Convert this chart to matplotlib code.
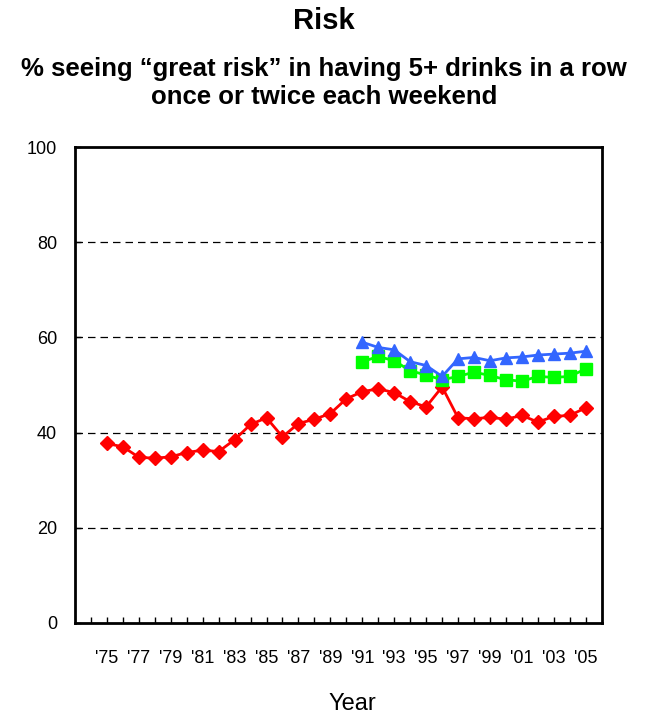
import matplotlib
matplotlib.use("Agg")
import matplotlib.pyplot as plt
import numpy as np

plt.rcParams['font.family'] = ['Liberation Sans', 'DejaVu Sans']

years_red = list(range(1975, 2006))
red = [37.7, 37.0, 34.8, 34.6, 34.9, 35.8, 36.3, 36.0, 38.5, 41.7, 43.1, 39.1,
       41.9, 42.8, 44.0, 47.1, 48.6, 49.2, 48.4, 46.5, 45.4, 49.6, 43.1, 42.9,
       43.2, 42.8, 43.6, 42.2, 43.4, 43.6, 45.2]
years_late = list(range(1991, 2006))
green = [54.9, 56.0, 55.1, 53.0, 52.1, 51.1, 51.8, 52.7, 52.0, 51.1, 50.8, 51.8,
         51.6, 51.8, 53.4]
blue = [59.0, 57.9, 57.4, 54.9, 54.1, 51.8, 55.5, 55.8, 55.1, 55.7, 55.9, 56.3,
        56.5, 56.7, 57.1]
tick_years = list(range(1974, 2006))
xtick_labels = ["'%02d" % (y % 100) if y % 2 == 1 else "" for y in tick_years]
yticks = [0, 20, 40, 60, 80, 100]

fig = plt.figure(figsize=(6.48, 7.17), dpi=100)
ax = fig.add_axes([75/648, 1-622.7/717, (601.7-75)/648, (622.7-147.3)/717])

ax.plot(years_red, red, color='#FF0000', lw=2, marker='D', ms=7.5, mec='#FF0000', zorder=3)
ax.plot(years_late, green, color='#00FF00', lw=2, marker='s', ms=8, mec='#00FF00', zorder=4)
ax.plot(years_late, blue, color='#3366FF', lw=2, marker='^', ms=9, mec='#3366FF', zorder=5)

ax.set_xlim(1973, 2006)
ax.set_ylim(0, 100)
ax.set_xticks(tick_years)
ax.set_xticklabels(xtick_labels)
ax.tick_params(axis='x', direction='in', length=4, width=1, color='black', pad=20, labelsize=13)
ax.set_yticks(yticks)
ax.set_yticklabels([str(v) for v in yticks])
ax.tick_params(axis='y', direction='in', length=4, width=1, pad=13, labelsize=13)

for v in [20, 40, 60, 80]:
    ax.axhline(v, color='black', lw=0.9, ls=(0, (6, 4)), zorder=1)

for s in ax.spines.values():
    s.set_linewidth(2)
    s.set_color('black')

fig.text(0.5, 1-21/717, 'Risk', ha='center', va='center', fontsize=21, fontweight='bold')
fig.text(0.5, 1-83/717, '% seeing \u201cgreat risk\u201d in having 5+ drinks in a row\nonce or twice each weekend',
         ha='center', va='center', fontsize=18.5, fontweight='bold', linespacing=1.25)
fig.text(352/648, 1-704/717, 'Year', ha='center', va='center', fontsize=17)

fig.savefig('out.png', dpi=100)
